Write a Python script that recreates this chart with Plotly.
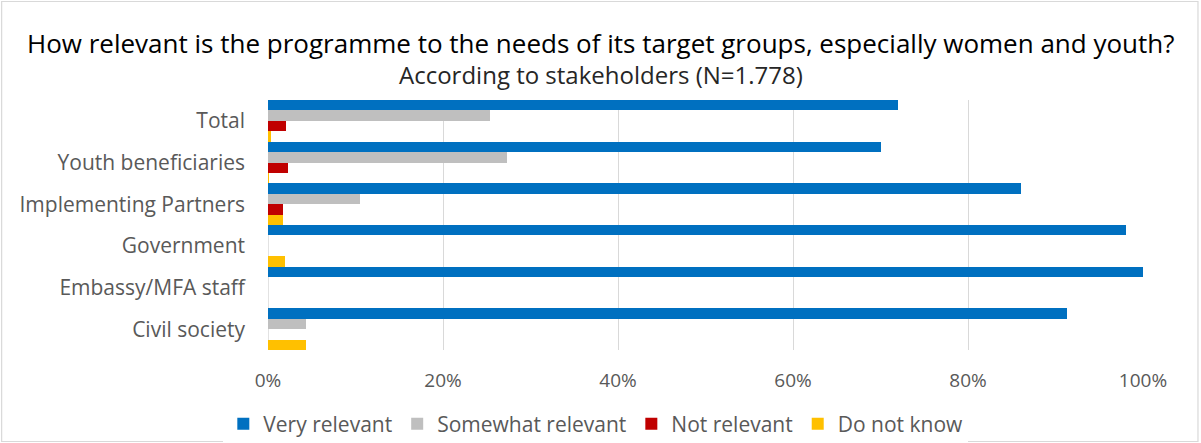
import plotly.graph_objects as go

# Survey answers per stakeholder group (percent of respondents)
categories = ["Total", "Youth beneficiaries", "Implementing Partners",
              "Government", "Embassy/MFA staff", "Civil society"]
very_relevant = [72.0, 70.0, 86.0, 98.1, 100.0, 91.3]
somewhat_relevant = [25.4, 27.3, 10.5, 0.0, 0.0, 4.35]
not_relevant = [2.1, 2.3, 1.7, 0.0, 0.0, 0.0]
do_not_know = [0.3, 0.1, 1.7, 1.9, 0.0, 4.35]

series_names = ["Very relevant", "Somewhat relevant", "Not relevant", "Do not know"]
series_values = [very_relevant, somewhat_relevant, not_relevant, do_not_know]
series_colors = ["#0070C0", "#BFBFBF", "#C00000", "#FFC000"]

FONT = "Open Sans"
W, H = 1201, 443
L, R, T, B = 268, 57.5, 100, 93
plot_w = W - L - R
plot_h = H - T - B


def px_x(p):
    return (p - L) / plot_w


def px_y(q):
    return (H - B - q) / plot_h


fig = go.Figure()
for name, vals, col in zip(series_names, series_values, series_colors):
    fig.add_trace(go.Bar(
        y=categories, x=[v / 100 for v in vals], name=name, orientation="h",
        marker=dict(color=col, line=dict(width=0)),
    ))

fig.update_layout(
    width=W, height=H,
    margin=dict(l=L, r=R, t=T, b=B, autoexpand=False),
    paper_bgcolor="white", plot_bgcolor="white",
    barmode="group", bargap=0, bargroupgap=0,
    font=dict(family=FONT, color="#595959"),
    showlegend=True,
    legend=dict(orientation="h", x=px_x(596), xanchor="center",
                y=px_y(424), yanchor="middle",
                font=dict(size=21, color="#595959"),
                itemwidth=30, traceorder="normal"),
    xaxis=dict(range=[0, 1], tickvals=[0, 0.2, 0.4, 0.6, 0.8, 1.0],
               tickformat=".0%", showgrid=True, gridcolor="#D9D9D9",
               gridwidth=1, zeroline=False, showline=False,
               tickfont=dict(size=19, color="#595959"),
               ticklabelstandoff=17, fixedrange=True),
    yaxis=dict(autorange="reversed", showgrid=False, zeroline=False,
               showline=False, tickfont=dict(size=21, color="#595959"),
               ticklabelstandoff=22, fixedrange=True),
    shapes=[
        # chart area border
        dict(type="rect", xref="paper", yref="paper",
             x0=px_x(1.5), x1=px_x(1198.5), y0=px_y(441.5), y1=px_y(1.5),
             line=dict(color="#D9D9D9", width=1.2), layer="below"),
        # 0% axis line
        dict(type="line", xref="x", yref="paper", x0=0, x1=0, y0=0, y1=1,
             line=dict(color="#D9D9D9", width=1.5), layer="below"),
    ],
    annotations=[
        dict(text="How relevant is the programme to the needs of its target groups, especially women and youth?",
             xref="paper", yref="paper", x=px_x(601), y=px_y(43),
             xanchor="center", yanchor="middle", showarrow=False,
             font=dict(family=FONT, size=26, color="#000000")),
        dict(text="According to stakeholders (N=1.778)",
             xref="paper", yref="paper", x=px_x(601), y=px_y(75),
             xanchor="center", yanchor="middle", showarrow=False,
             font=dict(family=FONT, size=24, color="#262626")),
    ],
)

fig.write_html("out.html")
